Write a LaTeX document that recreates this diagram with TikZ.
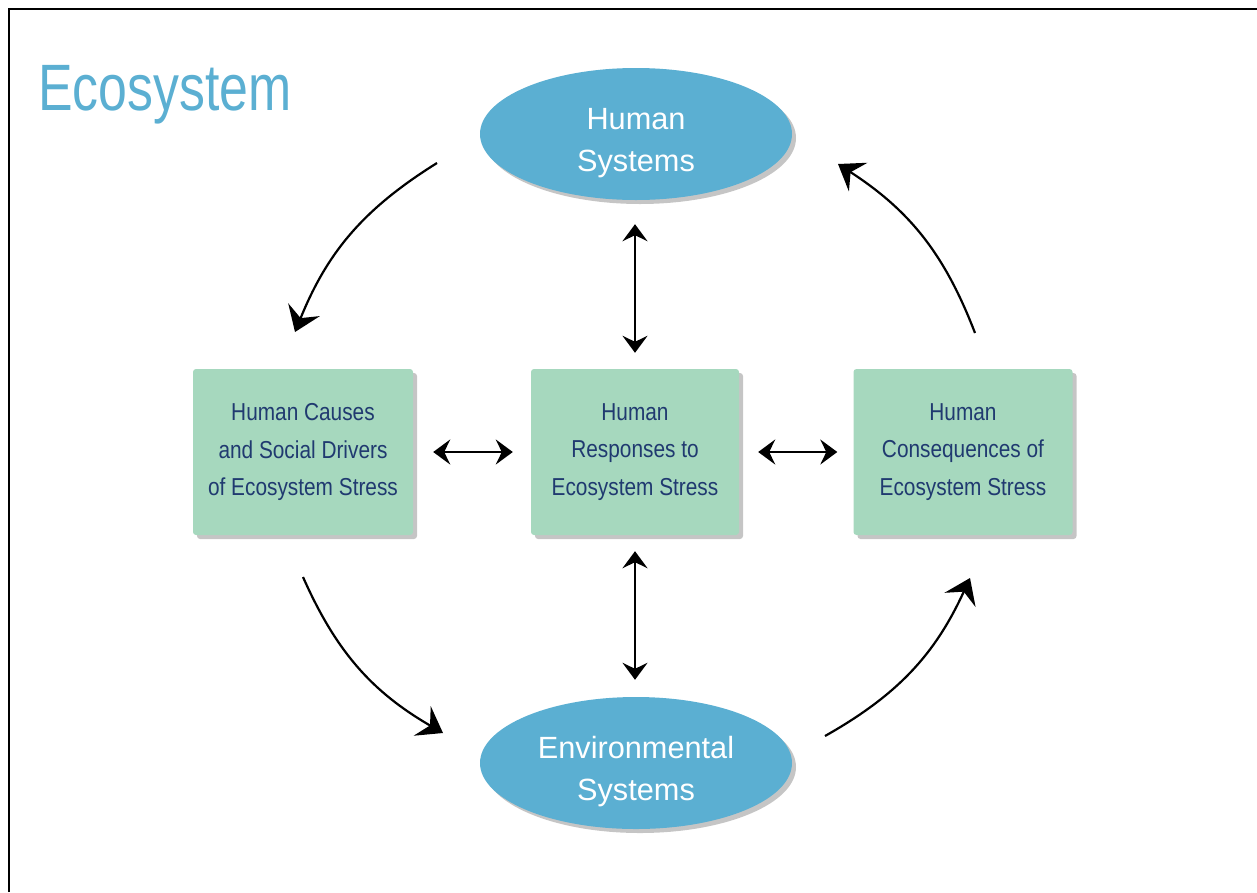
\documentclass[tikz,border=0pt]{standalone}
\usepackage{fontspec}
\setmainfont{Liberation Sans}
\newfontfamily\titlefont{Liberation Sans}[FakeStretch=0.79]
\newfontfamily\boxfont{Liberation Sans}[FakeStretch=0.85]
\usetikzlibrary{arrows.meta,shapes.geometric,shadows}

\definecolor{ecoblue}{RGB}{91,175,210}
\definecolor{boxgreen}{RGB}{166,216,190}
\definecolor{boxtext}{RGB}{32,58,112}

\begin{document}
\begin{tikzpicture}[x=1pt,y=-1pt,
    sysnode/.style={ellipse, fill=ecoblue, minimum width=312pt, minimum height=132pt,
        inner sep=0pt, text=white, align=center, font=\fontsize{30.7}{42}\selectfont,
        text height=82pt,
        drop shadow={shadow xshift=4pt, shadow yshift=-4pt, fill=black!45, opacity=0.5}},
    stressbox/.style={rectangle, rounded corners=3pt, fill=boxgreen, minimum height=166pt,
        inner sep=0pt, text=boxtext, align=center, font=\boxfont\fontsize{24.5}{37.5}\selectfont,
        drop shadow={shadow xshift=4pt, shadow yshift=-4pt, fill=black!45, opacity=0.5}},
    cyclearrow/.style={line width=2.2pt, -{Stealth[length=24pt,width=34pt,inset=9pt]}},
    linkarrow/.style={line width=2.2pt,
        {Stealth[length=17pt,width=25pt,inset=6pt]}-{Stealth[length=17pt,width=25pt,inset=6pt]}}]
        \useasboundingbox (0,0) rectangle (1257,892);
        \draw[line width=1.5pt] (9,892) -- (9,9) -- (1257,9);
        \node[anchor=base west, inner sep=0pt, text=ecoblue,
            font=\titlefont\fontsize{65.6}{70}\selectfont] (title) at (38,110) {Ecosystem};
        % the two systems
        \node[sysnode] (human) at (636,134) {Human\\Systems};
        \node[sysnode] (env) at (636,763) {Environmental\\Systems};
        % the three boxes
        \node[stressbox, minimum width=220pt] (causes) at (303,452)
            {Human Causes\\and Social Drivers\\of Ecosystem Stress};
        \node[stressbox, minimum width=208pt] (responses) at (635,452)
            {Human\\Responses to\\Ecosystem Stress};
        \node[stressbox, minimum width=219pt] (consequences) at (963,452)
            {Human\\Consequences of\\Ecosystem Stress};
        % links
        \draw[linkarrow, shorten <=20pt, shorten >=18pt] (causes) -- (responses);
        \draw[linkarrow, shorten <=19pt, shorten >=16pt] (responses) -- (consequences);
        \draw[linkarrow, shorten <=24pt, shorten >=16pt] (human.south -| responses) -- (responses);
        \draw[linkarrow, shorten <=16pt, shorten >=17pt] (responses) -- (env.north -| responses);
        % the cycle
        \coordinate (hs out) at (437,163);
        \coordinate (hc in) at (295,332);
        \coordinate (hc out) at (303,577);
        \coordinate (es in) at (443,733);
        \coordinate (es out) at (825,736);
        \coordinate (cs in) at (970,578);
        \coordinate (cs out) at (975,333);
        \coordinate (hs in) at (838,164);
        \draw[cyclearrow] (hs out) to[bend right=18] (hc in);
        \draw[cyclearrow] (hc out) to[bend right=18] (es in);
        \draw[cyclearrow] (es out) to[bend right=18] (cs in);
        \draw[cyclearrow] (cs out) to[bend right=18] (hs in);
\end{tikzpicture}
\end{document}
